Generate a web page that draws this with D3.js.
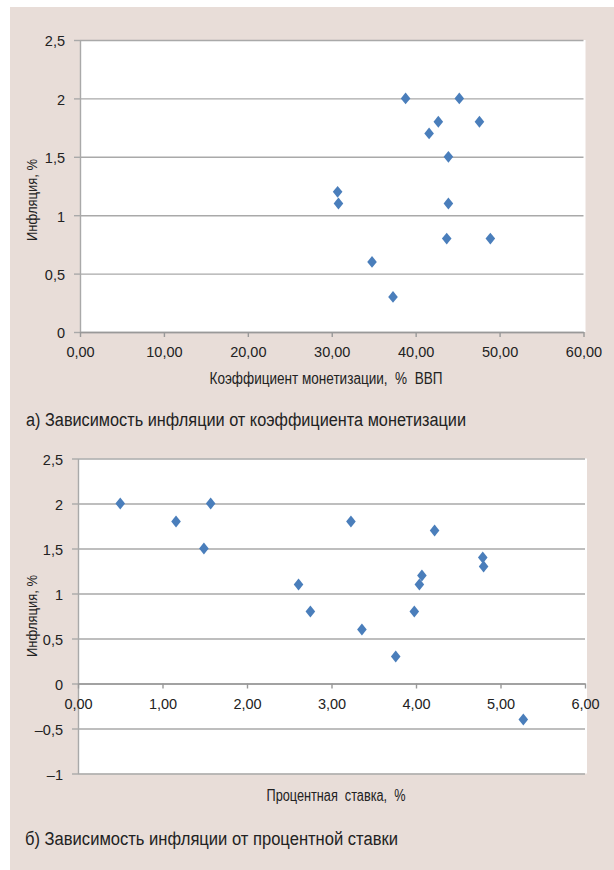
<!DOCTYPE html>
<html><head><meta charset="utf-8">
<script src="https://cdn.jsdelivr.net/npm/d3@7"></script>
<style>html,body{margin:0;padding:0;background:#fff}</style>
</head><body>
<svg id="c" width="614" height="870"></svg>
<script>
// ---- Chart A: inflation vs monetization ----
const monetization = [38.8, 45.2, 42.7, 47.6, 41.6, 43.9, 30.7, 30.8, 43.9, 43.7, 48.9, 34.8, 37.3];
const inflationA   = [2.0,  2.0,  1.8,  1.8,  1.7,  1.5,  1.2,  1.1,  1.1,  0.8,  0.8,  0.6,  0.3];
const xTicksA = [0, 10, 20, 30, 40, 50, 60];
const xLabelsA = ["0,00", "10,00", "20,00", "30,00", "40,00", "50,00", "60,00"];
const yTicksA = [0, 0.5, 1, 1.5, 2, 2.5];
const yLabelsA = ["0", "0,5", "1", "1,5", "2", "2,5"];

// ---- Chart B: inflation vs interest rate ----
const rate       = [0.50, 1.57, 1.16, 1.49, 3.23, 4.22, 4.79, 4.80, 4.07, 4.04, 2.61, 2.75, 3.98, 3.36, 3.76, 5.27];
const inflationB = [2.0,  2.0,  1.8,  1.5,  1.8,  1.7,  1.4,  1.3,  1.2,  1.1,  1.1,  0.8,  0.8,  0.6,  0.3,  -0.4];
const xTicksB = [0, 1, 2, 3, 4, 5, 6];
const xLabelsB = ["0,00", "1,00", "2,00", "3,00", "4,00", "5,00", "6,00"];
const yTicksB = [-1, -0.5, 0, 0.5, 1, 1.5, 2, 2.5];
const yLabelsB = ["\u20131", "\u20130,5", "0", "0,5", "1", "1,5", "2", "2,5"];

const FONT = "'Liberation Sans',Arial,sans-serif";
const TEXT = "#222";
const GRID = "#a9a9a9";
const MARK = "#4a7ebb";

const svg = d3.select("#c");
svg.append("rect").attr("x", 10).attr("y", 7).attr("width", 604).attr("height", 863).attr("fill", "#e8ddd8");

const diamondShape = {
  draw(ctx, size) {
    const w = 4.8, h = 5.9;
    ctx.moveTo(0, -h); ctx.lineTo(w, 0); ctx.lineTo(0, h); ctx.lineTo(-w, 0); ctx.closePath();
  }
};

function drawChart(cfg) {
  const x = d3.scaleLinear().domain(cfg.xDomain).range([cfg.left, cfg.right]);
  const y = d3.scaleLinear().domain(cfg.yDomain).range([cfg.bottom, cfg.top]);
  const g = svg.append("g");

  g.append("rect").attr("x", cfg.left).attr("y", cfg.top)
    .attr("width", cfg.right - cfg.left + 2).attr("height", cfg.bottom - cfg.top).attr("fill", "#fff");

  // gridlines
  const grid = g.append("g").attr("transform", `translate(${cfg.left},0)`)
    .call(d3.axisLeft(y).tickValues(cfg.yTicks).tickSize(-(cfg.right - cfg.left)).tickFormat(""));
  grid.select(".domain").remove();
  grid.selectAll("line").attr("stroke", GRID).attr("stroke-width", 1.4);

  // y axis
  const ya = g.append("g").attr("transform", `translate(${cfg.left},0)`)
    .call(d3.axisLeft(y).tickValues(cfg.yTicks).tickSize(6).tickSizeOuter(0).tickPadding(9)
      .tickFormat((d, i) => cfg.yLabels[i]));
  ya.select(".domain").attr("stroke", GRID).attr("stroke-width", 1.4);
  ya.selectAll("line").attr("stroke", GRID).attr("stroke-width", 1.4);
  ya.selectAll("text").attr("font-family", FONT).attr("font-size", 14.5).attr("fill", TEXT).attr("dy", "0.4em");

  // x axis at y = 0
  const xa = g.append("g").attr("transform", `translate(0,${y(0)})`)
    .call(d3.axisBottom(x).tickValues(cfg.xTicks).tickSize(5).tickSizeOuter(0).tickPadding(10)
      .tickFormat((d, i) => cfg.xLabels[i]));
  xa.select(".domain").attr("stroke", "#999").attr("stroke-width", 1.4);
  xa.selectAll("line").attr("stroke", "#999").attr("stroke-width", 1.4);
  xa.selectAll("text").attr("font-family", FONT).attr("font-size", 14.5).attr("fill", TEXT);

  // points
  g.selectAll("path.pt").data(cfg.xs.map((v, i) => [v, cfg.ys[i]])).join("path")
    .attr("class", "pt")
    .attr("d", d3.symbol(diamondShape))
    .attr("transform", d => `translate(${x(d[0])},${y(d[1])})`)
    .attr("fill", MARK);

  // y title
  g.append("text").attr("transform", `translate(${cfg.yTitleX},${cfg.yTitleY}) rotate(-90)`)
    .attr("text-anchor", "middle").attr("font-family", FONT).attr("font-size", 15).attr("fill", TEXT)
    .attr("textLength", 82).attr("lengthAdjust", "spacingAndGlyphs")
    .text("Инфляция, %");
  // x title
  g.append("text").attr("x", cfg.xTitleX).attr("y", cfg.xTitleY).attr("text-anchor", "middle")
    .attr("font-family", FONT).attr("font-size", 16).attr("fill", TEXT).attr("xml:space", "preserve")
    .attr("textLength", cfg.xTitleLen).attr("lengthAdjust", "spacingAndGlyphs")
    .text(cfg.xTitle);
  // caption
  g.append("text").attr("x", cfg.capX).attr("y", cfg.capY)
    .attr("font-family", FONT).attr("font-size", 18).attr("fill", TEXT)
    .attr("textLength", cfg.capLen).attr("lengthAdjust", "spacingAndGlyphs")
    .text(cfg.caption);
}

drawChart({
  xs: monetization, ys: inflationA,
  xDomain: [0, 60], yDomain: [0, 2.5],
  left: 80, right: 583.5, top: 40, bottom: 332,
  xTicks: xTicksA, xLabels: xLabelsA, yTicks: yTicksA, yLabels: yLabelsA,
  yTitleX: 37, yTitleY: 200,
  xTitle: "Коэффициент монетизации,  %  ВВП", xTitleX: 326, xTitleY: 383.5, xTitleLen: 233,
  caption: "а) Зависимость инфляции от коэффициента монетизации", capX: 26, capY: 425.5, capLen: 440
});

drawChart({
  xs: rate, ys: inflationB,
  xDomain: [0, 6], yDomain: [-1, 2.5],
  left: 78, right: 585, top: 458.5, bottom: 773.5,
  xTicks: xTicksB, xLabels: xLabelsB, yTicks: yTicksB, yLabels: yLabelsB,
  yTitleX: 37, yTitleY: 616,
  xTitle: "Процентная  ставка,  %", xTitleX: 336, xTitleY: 801, xTitleLen: 139,
  caption: "б) Зависимость инфляции от процентной ставки", capX: 25, capY: 845, capLen: 373
});
</script>
</body></html>
